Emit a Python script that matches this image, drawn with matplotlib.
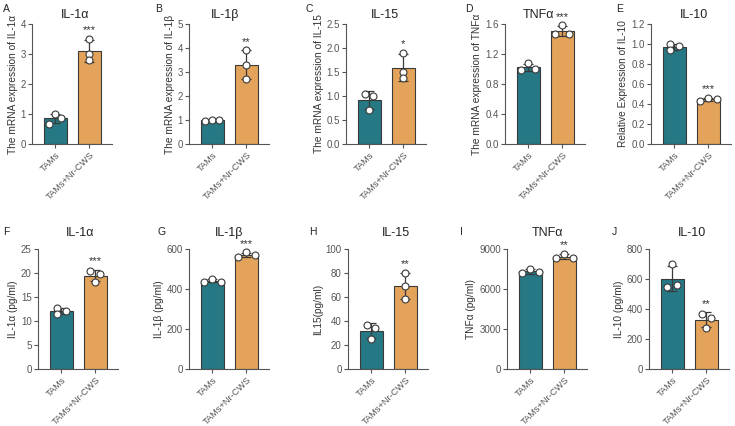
import numpy as np
import matplotlib
matplotlib.use("Agg")
import matplotlib.pyplot as plt

plt.rcParams['font.family'] = ['Liberation Sans', 'DejaVu Sans']

groups = ["TAMs", "TAMs+Nr-CWS"]
teal = "#257884"
orange = "#E3A35A"

# panel letter, title, y label, y max, y step, tick format
panels = [
    ("A", "IL-1α", "The mRNA expression of IL-1α", 4, 1, "{:.0f}"),
    ("B", "IL-1β", "The mRNA expression of IL-1β", 5, 1, "{:.0f}"),
    ("C", "IL-15", "The mRNA expression of IL-15", 2.5, 0.5, "{:.1f}"),
    ("D", "TNFα", "The mRNA expression of TNFα", 1.6, 0.4, "{:.1f}"),
    ("E", "IL-10", "Relative Expression of IL-10", 1.2, 0.2, "{:.1f}"),
    ("F", "IL-1α", "IL-1α (pg/ml)", 25, 5, "{:.0f}"),
    ("G", "IL-1β", "IL-1β (pg/ml)", 600, 200, "{:.0f}"),
    ("H", "IL-15", "IL15(pg/ml)", 100, 20, "{:.0f}"),
    ("I", "TNFα", "TNFα (pg/ml)", 9000, 3000, "{:.0f}"),
    ("J", "IL-10", "IL-10 (pg/ml)", 800, 200, "{:.0f}"),
]

# replicate values: (TAMs, TAMs+Nr-CWS)
tams = [
    [1.0, 0.87, 0.68],
    [0.95, 1.0, 1.0],
    [1.05, 1.0, 0.70],
    [1.08, 0.98, 1.0],
    [1.0, 0.94, 0.98],
    [12.7, 11.5, 12.0],
    [435, 450, 437],
    [37, 34, 25],
    [7200, 7500, 7250],
    [700, 550, 560],
]
nrcws = [
    [3.5, 3.0, 2.8],
    [3.9, 3.3, 2.7],
    [1.9, 1.5, 1.38],
    [1.58, 1.47, 1.47],
    [0.43, 0.46, 0.45],
    [20.4, 19.8, 18.2],
    [560, 583, 568],
    [80, 69, 58],
    [8300, 8650, 8350],
    [370, 340, 275],
]
stars = ["***", "**", "*", "***", "***", "***", "***", "**", "**", "**"]

# horizontal jitter of dots (in bar units)
jit_t = [[0, 0.17, -0.17], [-0.2, 0, 0.2], [-0.12, 0.12, 0], [0, -0.2, 0.2], [-0.12, -0.12, 0.15],
         [-0.12, -0.12, 0.15], [-0.25, 0, 0.25], [-0.12, 0.12, 0], [-0.25, 0, 0.25], [0, -0.15, 0.15]]
jit_n = [[0, 0, 0], [0, 0, 0], [0, 0, 0], [0, -0.2, 0.2], [-0.25, 0, 0.25],
         [-0.15, 0.15, 0], [-0.25, 0, 0.25], [0, 0, 0], [-0.25, 0, 0.25], [-0.12, 0.14, 0]]

W, H = 735, 426
fig = plt.figure(figsize=(W / 100, H / 100), dpi=100)

# layout in pixels
ax_left = [32, 189, 346, 505, 651, 38, 189, 348, 507, 649]
letter_x = [3, 155, 306, 465, 616, 3, 158, 309, 460, 612]
title_x = [75, 225, 385, 538, 694, 80, 229, 396, 547, 692]
axis_c = "#555555"

for i, (let, title, ylab, ymax, step, fmt) in enumerate(panels):
    top, bot = (24, 144) if i < 5 else (249, 369)
    aw = 80
    ax = fig.add_axes([ax_left[i] / W, 1 - bot / H, aw / W, (bot - top) / H])
    data = [np.array(tams[i]), np.array(nrcws[i])]
    means = [d.mean() for d in data]
    sds = [d.std(ddof=1) for d in data]
    ax.bar([0, 1], means, width=0.68, color=[teal, orange], edgecolor="#3a3a3a", linewidth=0.8, zorder=2)
    ax.errorbar([0, 1], means, yerr=sds, fmt="none", ecolor="#3a3a3a", elinewidth=0.9,
                capsize=3.5, capthick=0.9, zorder=3)
    for x, d, jj in [(0, data[0], jit_t[i]), (1, data[1], jit_n[i])]:
        ax.plot(x + np.array(jj), d, "o", ms=5, mfc="white", mec="#3a3a3a", mew=0.8,
                zorder=4, clip_on=False)
    ytop = max(means[1] + sds[1], data[1].max())
    ax.text(1, ytop + ymax * 0.03, stars[i], ha="center", va="bottom", fontsize=8,
            color="#333333", clip_on=False)
    ax.set_xlim(-0.68, 1.67)
    ax.set_ylim(0, ymax)
    ticks = np.arange(0, ymax + step / 2, step)
    ax.set_yticks(ticks)
    ax.set_yticklabels([fmt.format(t) for t in ticks], fontsize=7, color="#333333")
    ax.set_xticks([0, 1])
    ax.set_xticklabels(groups, rotation=45, ha="right", rotation_mode="anchor", fontsize=6.7,
                       color="#333333")
    ax.set_ylabel(ylab, fontsize=7.3, color="#333333", labelpad=2)
    for s in ["top", "right"]:
        ax.spines[s].set_visible(False)
    for s in ["left", "bottom"]:
        ax.spines[s].set_color(axis_c)
        ax.spines[s].set_linewidth(0.8)
    ax.tick_params(colors=axis_c, length=3, width=0.8, pad=1.5)
    ty = 15 if i < 5 else 233
    fig.text(title_x[i] / W, 1 - ty / H, title, ha="center", va="center",
             fontsize=9, color="#222222")
    ly = 9 if i < 5 else 232
    fig.text(letter_x[i] / W, 1 - ly / H, let, ha="left", va="center", fontsize=7.5,
             color="#222222")

fig.savefig("out.png", dpi=100)
